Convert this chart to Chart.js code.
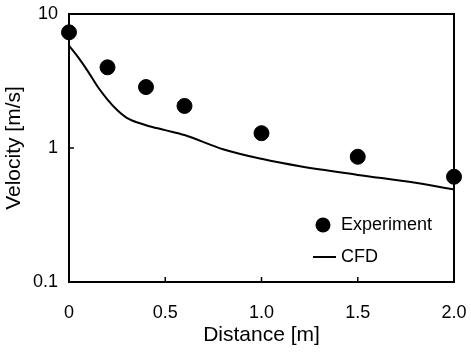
<!DOCTYPE html>
<html>
<head>
<meta charset="utf-8">
<script src="https://cdn.jsdelivr.net/npm/chart.js@4.4.1/dist/chart.umd.min.js"></script>
<style>
  html, body { margin: 0; padding: 0; background: #fff; }
  #wrap { width: 471px; height: 353px; }
</style>
</head>
<body>
<div id="wrap"><canvas id="velcanvas" width="471" height="353"></canvas></div>
<script>
// measured points
var expDist = [0, 0.2, 0.4, 0.6, 1.0, 1.5, 2.0];
var expVel = [7.3, 4.0, 2.85, 2.06, 1.29, 0.86, 0.61];

// simulation curve
var cfdDist = [0, 0.05, 0.1, 0.15, 0.2, 0.25, 0.3, 0.4, 0.5, 0.6, 0.8, 1.0, 1.2, 1.5, 1.8, 2.0];
var cfdVel = [5.8, 4.7, 3.7, 2.85, 2.3, 1.92, 1.68, 1.48, 1.36, 1.25, 0.98, 0.83, 0.73, 0.63, 0.55, 0.49];

var xTicks = [0, 0.5, 1.0, 1.5, 2.0];
var yTicks = [0.1, 1, 10];

function toXY(xs, ys) {
    var out = [];
    for (var i = 0; i < xs.length; i++) out.push({x: xs[i], y: ys[i]});
    return out;
}

var fontFam = "'Liberation Sans', Arial, sans-serif";

// box, inner ticks and the legend inside the plot
var framePlugin = {
    id: 'frame',
    afterDatasetsDraw: function(chart) {
        var ctx = chart.ctx, a = chart.chartArea;
        var xs = chart.scales.x, ys = chart.scales.y;
        ctx.save();
        ctx.strokeStyle = '#000';
        ctx.lineWidth = 2;
        ctx.strokeRect(a.left, a.top, a.right - a.left, a.bottom - a.top);
        ctx.lineWidth = 1.5;
        ctx.beginPath();
        xTicks.forEach(function(v) {
            if (v === xs.min || v === xs.max) return;
            var px = xs.getPixelForValue(v);
            ctx.moveTo(px, a.bottom); ctx.lineTo(px, a.bottom - 5);
        });
        yTicks.forEach(function(v) {
            if (v === ys.min || v === ys.max) return;
            var py = ys.getPixelForValue(v);
            ctx.moveTo(a.left, py); ctx.lineTo(a.left + 5, py);
        });
        ctx.stroke();

        // legend
        var lx = a.right - 141, ly1 = a.bottom - 57, ly2 = a.bottom - 25;
        ctx.fillStyle = '#000';
        ctx.beginPath();
        ctx.arc(lx + 10, ly1, 7.5, 0, Math.PI * 2);
        ctx.fill();
        ctx.lineWidth = 2;
        ctx.beginPath();
        ctx.moveTo(lx, ly2); ctx.lineTo(lx + 23, ly2);
        ctx.stroke();
        ctx.font = '18px ' + fontFam;
        ctx.textBaseline = 'middle';
        ctx.textAlign = 'left';
        ctx.fillText(chart.data.datasets[0].label, lx + 28, ly1);
        ctx.fillText(chart.data.datasets[1].label, lx + 28, ly2);
        ctx.restore();
    }
};

var velconfig = {
    type: 'scatter',
    data: {
        datasets: [{
            label: 'Experiment',
            data: toXY(expDist, expVel),
            backgroundColor: '#000',
            borderColor: '#000',
            pointRadius: 7.5,
            pointHoverRadius: 7.5,
            showLine: false,
            clip: false,
            order: 1
        }, {
            label: 'CFD',
            data: toXY(cfdDist, cfdVel),
            borderColor: '#000',
            borderWidth: 2,
            pointRadius: 0,
            showLine: true,
            cubicInterpolationMode: 'monotone',
            order: 2
        }]
    },
    options: {
        responsive: false,
        animation: false,
        layout: { padding: { left: 0, right: 17, top: 14, bottom: 0 } },
        plugins: {
            legend: { display: false },
            tooltip: { enabled: false }
        },
        scales: {
            x: {
                type: 'linear',
                min: 0, max: 2,
                afterBuildTicks: function(s) { s.ticks = xTicks.map(function(v){ return {value: v}; }); },
                afterFit: function(s) { s.height = 71; s.paddingLeft = 0; s.paddingRight = 0; },
                grid: { display: false, drawTicks: false },
                border: { display: false },
                ticks: {
                    color: '#000', padding: 20,
                    font: { family: fontFam, size: 18 },
                    callback: function(v) { return v === 0 ? '0' : v.toFixed(1); }
                },
                title: {
                    display: true, text: 'Distance [m]', color: '#000',
                    font: { family: fontFam, size: 21 },
                    padding: { top: 0, bottom: 5 }
                }
            },
            y: {
                type: 'logarithmic',
                min: 0.1, max: 10,
                afterBuildTicks: function(s) { s.ticks = yTicks.map(function(v){ return {value: v}; }); },
                afterFit: function(s) { s.width = 69; s.paddingTop = 0; s.paddingBottom = 0; },
                grid: { display: false, drawTicks: false },
                border: { display: false },
                ticks: {
                    color: '#000', padding: 11,
                    font: { family: fontFam, size: 18 },
                    callback: function(v) { return String(v); }
                },
                title: {
                    display: true, text: 'Velocity [m/s]', color: '#000',
                    font: { family: fontFam, size: 21 },
                    padding: { top: 2, bottom: 0 }
                }
            }
        }
    },
    plugins: [framePlugin]
};

var velctx = document.getElementById('velcanvas').getContext('2d');
var velchart = new Chart(velctx, velconfig);
</script>
</body>
</html>
